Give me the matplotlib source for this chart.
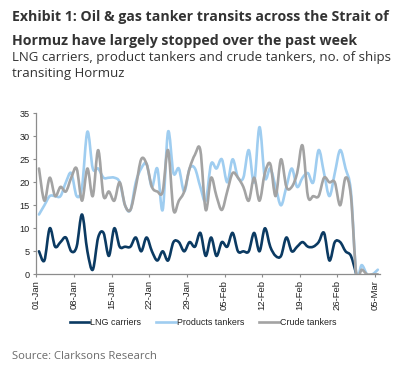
import numpy as np
import matplotlib
matplotlib.use("Agg")
import matplotlib.pyplot as plt
from matplotlib.path import Path
from matplotlib.patches import PathPatch
from matplotlib.lines import Line2D

# ---------------- data (daily, 01-Jan .. 05-Mar) ----------------
tick_labels = ["01-Jan", "08-Jan", "15-Jan", "22-Jan", "29-Jan",
               "05-Feb", "12-Feb", "19-Feb", "26-Feb", "05-Mar"]

lng_carriers = [5, 3, 10, 6, 7, 8, 5, 6, 13, 5,
                1, 8, 9, 4, 10, 6, 6, 6, 8, 5,
                8, 5, 3, 5, 3, 7, 7, 5, 7, 6,
                9, 4, 8, 4, 7, 6, 9, 5, 5, 5,
                9, 5, 10, 6, 4, 4, 8, 5, 6, 7,
                6, 6, 7, 9, 3, 7, 7, 5, 4, 0,
                np.nan, np.nan, np.nan, np.nan]

products_tankers = [13, 15, 17, 17, 17, 20, 22, 17, 19, 31,
                    23, 23, 21, 21, 21, 20, 15, 14, 20, 23,
                    24, 19, 23, 14, 31, 22, 23, 18, 23, 23,
                    19, 16, 24, 23, 25, 20, 25, 21, 21, 27,
                    20, 32, 21, 23, 19, 15, 19, 23, 19, 21,
                    22, 20, 27, 22, 17, 22, 27, 23, 18, 0,
                    2, 0, 0, 1]

crude_tankers = [23, 16, 21, 17, 19, 18, 21, 23, 16, 23,
                 17, 27, 17, 18, 16, 20, 15, 14, 19, 25,
                 24, 19, 18, 18, 27, 14, 16, 18, 23, 26,
                 27, 14, 21, 17, 14, 18, 22, 21, 19, 16,
                 21, 16, 22, 24, 17, 25, 19, 19, 22, 28,
                 17, 17, 17, 21, 20, 20, 15, 21, 17, 0,
                 1, 0, 0, 0]

series_names = ["LNG carriers", "Products tankers", "Crude tankers"]
series_colors = ["#0b3a62", "#9fcdf0", "#a3a3a3"]

# ---------------- figure ----------------
W, H = 395, 387
fig = plt.figure(figsize=(W / 100, H / 100), dpi=100)


def fx(px):
    return px / W


def fy(py):
    return 1 - py / H


ax_left, ax_right, ax_top, ax_bottom = 36.3, 380.5, 113.3, 274.3
ax = fig.add_axes([fx(ax_left), fy(ax_bottom), (ax_right - ax_left) / W,
                   (ax_bottom - ax_top) / H])

n_days = len(lng_carriers)
x = np.arange(n_days) + 0.5  # points sit between tick marks


def smooth_path(xs, ys):
    """Bezier path through the points (Excel-like smoothed line)."""
    xs = np.asarray(xs, float)
    ys = np.asarray(ys, float)
    ok = ~np.isnan(ys)
    xs, ys = xs[ok], ys[ok]
    P = np.column_stack([xs, ys])
    n = len(P)
    verts = [P[0]]
    codes = [Path.MOVETO]
    for i in range(n - 1):
        p0 = P[i - 1] if i > 0 else P[i]
        p1 = P[i]
        p2 = P[i + 1]
        p3 = P[i + 2] if i + 2 < n else P[i + 1]
        c1 = p1 + (p2 - p0) / 6.0
        c2 = p2 - (p3 - p1) / 6.0
        verts += [c1, c2, p2]
        codes += [Path.CURVE4] * 3
    return Path(verts, codes)


lw = 1.9
for vals, col, z in zip([lng_carriers, products_tankers, crude_tankers],
                        series_colors, [3, 4, 5]):
    patch = PathPatch(smooth_path(x, vals), fill=False, edgecolor=col,
                      lw=lw, capstyle="round", joinstyle="round", zorder=z)
    ax.add_patch(patch)

ax.set_xlim(0, n_days)
ax.set_ylim(0, 35)
ax.set_yticks(np.arange(0, 36, 5))
ax.set_xticks(np.arange(0, n_days, 7))
ax.set_xticklabels(tick_labels, rotation=90, va="top", ha="center")

axis_col = "#8c8c8c"
for s in ["top", "right"]:
    ax.spines[s].set_visible(False)
for s in ["left", "bottom"]:
    ax.spines[s].set_color(axis_col)
    ax.spines[s].set_linewidth(0.9)
    ax.spines[s].set_zorder(2)

tick_font = "Liberation Sans"
ax.tick_params(axis="both", direction="out", length=2.5, width=0.8,
               color=axis_col, labelcolor="#222222")
ax.tick_params(axis="y", pad=2.5, labelsize=6.6)
ax.tick_params(axis="x", pad=1.5, labelsize=6.8)
for lab in ax.get_xticklabels() + ax.get_yticklabels():
    lab.set_fontfamily(tick_font)

# legend
handles = [Line2D([], [], color=c, lw=lw) for c in series_colors]
leg = fig.legend(handles, series_names, loc="center",
                 bbox_to_anchor=(fx(203), fy(322.7)), ncol=3, frameon=False,
                 prop={"family": tick_font, "size": 6.4},
                 handlelength=2.2, handletextpad=0.1, columnspacing=1.7,
                 borderpad=0, borderaxespad=0)
for t in leg.get_texts():
    t.set_color("#222222")

# ---------------- texts ----------------
text_font = "Open Sans"
title_col = "#333333"
title_lines = ["Exhibit 1: Oil & gas tanker transits across the Strait of",
               "Hormuz have largely stopped over the past week"]
subtitle_lines = ["LNG carriers, product tankers and crude tankers, no. of ships",
                  "transiting Hormuz"]
source_text = "Source: Clarksons Research"

fig.canvas.draw()
renderer = fig.canvas.get_renderer()


def fitted_size(txt, weight, target_px, base=10.0):
    t = fig.text(0, 0, txt, fontsize=base, fontfamily=text_font,
                 fontweight=weight)
    w = t.get_window_extent(renderer).width
    t.remove()
    return base * target_px / w


ts = fitted_size(title_lines[0], "bold", 375)
ss = fitted_size(subtitle_lines[0], "normal", 375)
src = fitted_size(source_text, "normal", 144)

x0 = fx(11.7)
fig.text(x0, fy(20.7), title_lines[0], fontsize=ts, fontweight="bold",
         fontfamily=text_font, color=title_col, va="baseline")
fig.text(x0, fy(45.0), title_lines[1], fontsize=ts, fontweight="bold",
         fontfamily=text_font, color=title_col, va="baseline")
fig.text(x0, fy(60.5), subtitle_lines[0], fontsize=ss,
         fontfamily=text_font, color=title_col, va="baseline")
fig.text(x0, fy(77.2), subtitle_lines[1], fontsize=ss,
         fontfamily=text_font, color=title_col, va="baseline")
fig.text(x0, fy(358.8), source_text, fontsize=src,
         fontfamily=text_font, color="#6b6b6b", va="baseline")

fig.savefig("out.png", dpi=100, facecolor="white")
